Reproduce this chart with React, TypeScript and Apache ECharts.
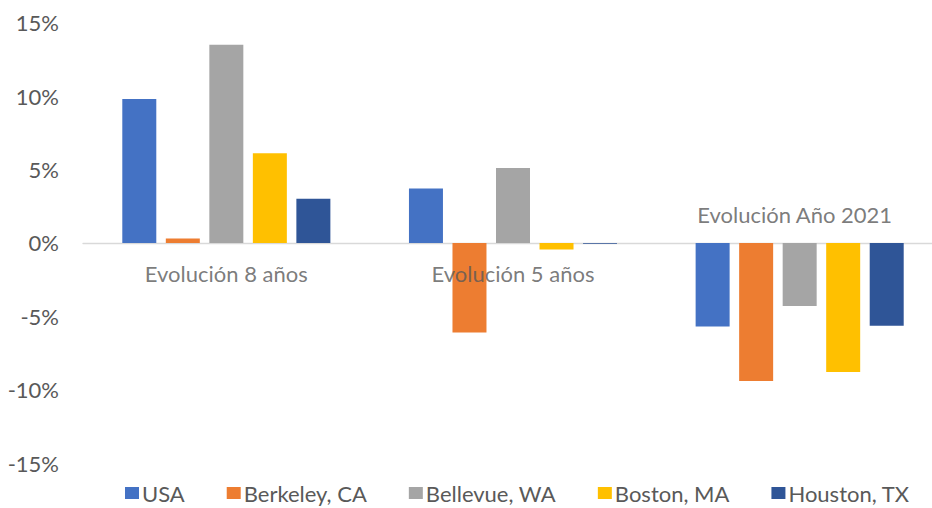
import React, { useEffect, useRef } from "react";
import * as echarts from "echarts";

// Category groups and series (percent change)
const categories = ["Evolución 8 años", "Evolución 5 años", "Evolución Año 2021"];
const seriesNames = ["USA", "Berkeley, CA", "Bellevue, WA", "Boston, MA", "Houston, TX"];
const usa = [9.8, 3.7, -5.7];
const berkeley = [0.3, -6.1, -9.4];
const bellevue = [13.5, 5.1, -4.3];
const boston = [6.1, -0.45, -8.8];
const houston = [3.0, -0.05, -5.65];
const yTicks = [-15, -10, -5, 0, 5, 10, 15];

const colors = ["#4472C4", "#ED7D31", "#A5A5A5", "#FFC000", "#2F5597"];
const FONT = "Lato, 'Noto Sans', sans-serif";
const TEXT = "#595959";

export default function App() {
  const ref = useRef<HTMLDivElement>(null);

  useEffect(() => {
    document.body.style.margin = "0";
    if (!ref.current) return;
    const chart = echarts.init(ref.current, undefined, { renderer: "svg" });
    const values = [usa, berkeley, bellevue, boston, houston];

    const barSeries = seriesNames.map((name, i) => ({
      name,
      type: "bar" as const,
      data: values[i],
      barWidth: 34,
      barGap: "28%",
      itemStyle: { color: colors[i] },
    }));

    // Group labels sit on the zero line: below for the first two, above for the last
    const labelOffsets = [
      [0, 31],
      [0, 31],
      [-5, -28],
    ];
    const groupLabels = {
      type: "scatter" as const,
      name: "groups",
      symbolSize: 0,
      silent: true,
      z: 5,
      data: categories.map((c, i) => ({
        value: [i, 0],
        label: {
          show: true,
          position: "inside",
          offset: labelOffsets[i],
          formatter: c,
          fontFamily: FONT,
          fontSize: 22,
          color: TEXT,
        },
      })),
    };

    chart.setOption({
      animation: false,
      backgroundColor: "#ffffff",
      textStyle: { fontFamily: FONT },
      legend: {
        data: seriesNames,
        bottom: -1,
        left: 120,
        icon: "rect",
        itemWidth: 14,
        itemHeight: 12,
        itemGap: 42,
        textStyle: { fontFamily: FONT, fontSize: 22, color: TEXT, padding: [0, 0, 0, -2] },
      },
      grid: {
        left: 83,
        width: 860,
        top: 22.7,
        bottom: 44.9,
        outerBoundsMode: "none",
        containLabel: false,
      },
      xAxis: {
        type: "category",
        data: categories,
        axisLine: { onZero: true, lineStyle: { color: "#D9D9D9", width: 1.3 } },
        axisTick: { show: false },
        axisLabel: { show: false },
        splitLine: { show: false },
      },
      yAxis: {
        type: "value",
        min: yTicks[0],
        max: yTicks[yTicks.length - 1],
        interval: 5,
        axisLine: { show: false },
        axisTick: { show: false },
        splitLine: { show: false },
        axisLabel: {
          margin: 24,
          formatter: (v: number) => `${v}%`,
          fontFamily: FONT,
          fontSize: 22,
          color: TEXT,
        },
      },
      series: [...barSeries, groupLabels],
    });

    return () => chart.dispose();
  }, []);

  return <div ref={ref} style={{ width: 932, height: 508 }} />;
}
